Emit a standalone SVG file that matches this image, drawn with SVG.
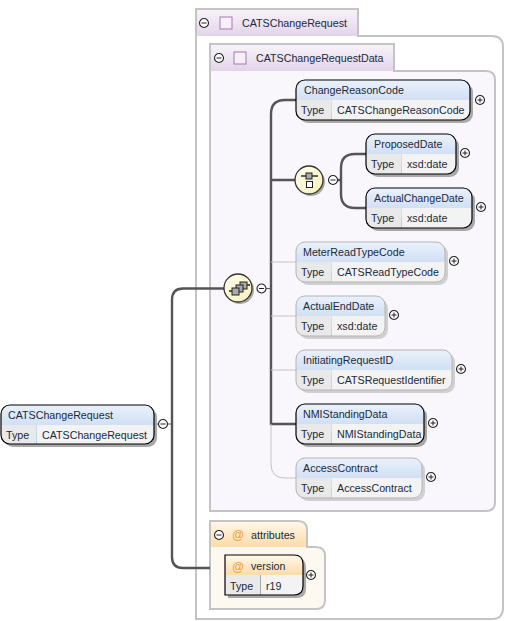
<svg xmlns="http://www.w3.org/2000/svg" width="505" height="621" viewBox="0 0 505 621">
<style>
text{font-family:"Liberation Sans",Arial,sans-serif;font-size:10.7px;fill:#1a2a3a}
.fr{stroke:#c4c4c4;stroke-width:2;fill:none}
.shadow{fill:#a8a8a8}
.lshadow{fill:#d0d0d0}
.sel{fill:none;stroke:#000;stroke-width:1.2}
.opt{fill:none;stroke:#b4b4b4;stroke-width:1}
.cell{fill:#e9e9e9}
.cell2{fill:#f3f3f3}
.bold{fill:none;stroke:#555;stroke-width:2.4}
.thin{fill:none;stroke:#c4c4c4;stroke-width:1}
.pm{fill:#fff;stroke:#222;stroke-width:1.1}
.pl{stroke:#222;stroke-width:1;fill:none}
.at{fill:#f0a030;font-size:12px}
.ci{fill:url(#ball);stroke:#333;stroke-width:1.3}
.cis{fill:#aaa}
.sq{fill:#f6f0f8;stroke:#a878b0;stroke-width:1}
</style>
<defs>
<linearGradient id="blue" x1="0" y1="0" x2="0" y2="1"><stop offset="0" stop-color="#eaf1fb"/><stop offset="1" stop-color="#b9cff0"/></linearGradient>
<linearGradient id="purple" x1="0" y1="0" x2="0" y2="1"><stop offset="0" stop-color="#f8f4fa"/><stop offset="1" stop-color="#e4d4ea"/></linearGradient>
<linearGradient id="orange" x1="0" y1="0" x2="0" y2="1"><stop offset="0" stop-color="#fff8ea"/><stop offset="1" stop-color="#fcdca8"/></linearGradient>
<linearGradient id="ball" x1="0" y1="0" x2="1" y2="1"><stop offset="0" stop-color="#fffef0"/><stop offset="1" stop-color="#f8f0b8"/></linearGradient>
<symbol id="minus" overflow="visible"><circle r="4.5" class="pm"/><path d="M-2.5 0H2.5" class="pl"/></symbol>
<symbol id="plus" overflow="visible"><circle r="4.5" class="pm"/><path d="M-2.5 0H2.5M0 -2.5V2.5" class="pl"/></symbol>
</defs>
<rect width="505" height="621" fill="#fff"/>

<g id="frame-CATSChangeRequest">
<path d="M196 36H492Q503 36 503 47V608Q503 619 492 619H196Z" fill="#fff"/>
<path d="M196 9H358V36H196Z" fill="url(#purple)"/>
<path class="fr" d="M196 36V9H358V36H492Q503 36 503 47V608Q503 619 492 619H196V36"/>
<use href="#minus" x="204" y="23"/>
<rect x="220" y="17" width="12" height="12" class="sq"/>
<text x="242" y="27">CATSChangeRequest</text>
</g>
<g id="frame-CATSChangeRequestData">
<path d="M210 71H486Q495 71 495 80V502Q495 511 486 511H210Z" fill="#f9f6fc"/>
<path d="M210 44H394V71H210Z" fill="url(#purple)"/>
<path class="fr" d="M210 71V44H394V71H486Q495 71 495 80V502Q495 511 486 511H210V71"/>
<use href="#minus" x="219" y="58"/>
<rect x="234" y="52" width="12" height="12" class="sq"/>
<text x="256" y="62">CATSChangeRequestData</text>
</g>
<g id="frame-attributes">
<path d="M210 547H316Q325 547 325 556V600Q325 609 316 609H210Z" fill="#fef9f0"/>
<path d="M210 547V521H298Q307 521 307 530V547Z" fill="url(#orange)"/>
<path class="fr" d="M210 547V521H298Q307 521 307 530V547H316Q325 547 325 556V600Q325 609 316 609H210V547"/>
<use href="#minus" x="219" y="535"/>
<text x="232" y="539" class="at">@</text>
<text x="251" y="539">attributes</text>
</g>

<g id="connectors">
<path class="bold" d="M172 424V300Q172 288.500 183 288.500H224M172 424V557Q172 568 183 568H210"/>
<path class="bold" d="M296 100H285Q271 100 271 114V424H296M271 180H296"/>
<path class="bold" d="M338 180H341M366 154H355Q341 154 341 168V194Q341 208 355 208H366"/>
<path class="thin" d="M271 262H296M271 316H296M271 370H296M271 424V464Q271 478 285 478H296"/>
<path d="M157 424H172M266 288.500H271" stroke="#555" stroke-width="1" fill="none"/>
</g>

<g id="node-CATSChangeRequest">
<rect x="4" y="408" width="153" height="39" rx="9" class="shadow"/>
<rect x="1" y="405" width="153" height="39" rx="9" fill="url(#blue)"/>
<path d="M1 425H36V444H10Q1 444 1 435Z" class="cell"/><path d="M37 425H154V435Q154 444 145 444H37Z" class="cell2"/>
<rect x="1" y="405" width="153" height="39" rx="9" class="sel"/>
<text x="8" y="419">CATSChangeRequest</text><text x="6" y="439">Type</text><text x="42" y="439">CATSChangeRequest</text>
<use href="#minus" x="163" y="424"/>
</g>

<g id="sequence-1">
<circle cx="240" cy="290" r="14" class="cis"/>
<circle cx="238" cy="288" r="14" class="ci"/>
<path d="M229 291h3M247 285h3" fill="none" stroke="#222" stroke-width="1.4"/>
<rect x="240" y="282" width="7" height="7" fill="#aaa" stroke="#222"/>
<rect x="236" y="285" width="7" height="7" fill="#aaa" stroke="#222"/>
<rect x="232" y="288" width="7" height="7" fill="#aaa" stroke="#222"/>
<use href="#minus" x="261.500" y="288.500"/>
</g>
<g id="sequence-2">
<circle cx="311" cy="182" r="14" class="cis"/>
<circle cx="309" cy="180" r="14" class="ci"/>
<path d="M301 176h17" fill="none" stroke="#222" stroke-width="1.4"/>
<rect x="306" y="173" width="6" height="6" fill="#aaa" stroke="#222"/>
<rect x="306.500" y="181.500" width="6" height="6" fill="#fff" stroke="#222"/>
<use href="#minus" x="333" y="180"/>
</g>

<g id="node-ChangeReasonCode">
<rect x="299" y="83" width="174" height="40" rx="9" class="shadow"/>
<rect x="296" y="80" width="174" height="40" rx="9" fill="url(#blue)"/>
<path d="M296 100H331V120H305Q296 120 296 111Z" class="cell"/><path d="M332 100H470V111Q470 120 461 120H332Z" class="cell2"/>
<rect x="296" y="80" width="174" height="40" rx="9" class="sel"/>
<text x="304" y="94">ChangeReasonCode</text><text x="301" y="114">Type</text><text x="337" y="114">CATSChangeReasonCode</text>
<use href="#plus" x="480" y="100"/>
</g>
<g id="node-ProposedDate">
<rect x="369" y="137" width="90" height="40" rx="9" class="shadow"/>
<rect x="366" y="134" width="90" height="40" rx="9" fill="url(#blue)"/>
<path d="M366 154H401V174H375Q366 174 366 165Z" class="cell"/><path d="M402 154H456V165Q456 174 447 174H402Z" class="cell2"/>
<rect x="366" y="134" width="90" height="40" rx="9" class="sel"/>
<text x="374" y="148">ProposedDate</text><text x="371" y="168">Type</text><text x="407" y="168">xsd:date</text>
<use href="#plus" x="465" y="153"/>
</g>
<g id="node-ActualChangeDate">
<rect x="369" y="191" width="106" height="40" rx="9" class="shadow"/>
<rect x="366" y="188" width="106" height="40" rx="9" fill="url(#blue)"/>
<path d="M366 208H401V228H375Q366 228 366 219Z" class="cell"/><path d="M402 208H472V219Q472 228 463 228H402Z" class="cell2"/>
<rect x="366" y="188" width="106" height="40" rx="9" class="sel"/>
<text x="374" y="202">ActualChangeDate</text><text x="371" y="222">Type</text><text x="407" y="222">xsd:date</text>
<use href="#plus" x="481" y="207"/>
</g>
<g id="node-MeterReadTypeCode">
<rect x="299" y="245" width="149" height="40" rx="9" class="lshadow"/>
<rect x="296" y="242" width="149" height="40" rx="9" fill="url(#blue)"/>
<path d="M296 262H331V282H305Q296 282 296 273Z" class="cell"/><path d="M332 262H445V273Q445 282 436 282H332Z" class="cell2"/>
<rect x="296" y="242" width="149" height="40" rx="9" class="opt"/>
<text x="303" y="256">MeterReadTypeCode</text><text x="301" y="276">Type</text><text x="337" y="276">CATSReadTypeCode</text>
<use href="#plus" x="454" y="261"/>
</g>
<g id="node-ActualEndDate">
<rect x="299" y="299" width="89" height="40" rx="9" class="lshadow"/>
<rect x="296" y="296" width="89" height="40" rx="9" fill="url(#blue)"/>
<path d="M296 316H331V336H305Q296 336 296 327Z" class="cell"/><path d="M332 316H385V327Q385 336 376 336H332Z" class="cell2"/>
<rect x="296" y="296" width="89" height="40" rx="9" class="opt"/>
<text x="303" y="310">ActualEndDate</text><text x="301" y="330">Type</text><text x="337" y="330">xsd:date</text>
<use href="#plus" x="394" y="315"/>
</g>
<g id="node-InitiatingRequestID">
<rect x="299" y="353" width="156" height="40" rx="9" class="lshadow"/>
<rect x="296" y="350" width="156" height="40" rx="9" fill="url(#blue)"/>
<path d="M296 370H331V390H305Q296 390 296 381Z" class="cell"/><path d="M332 370H452V381Q452 390 443 390H332Z" class="cell2"/>
<rect x="296" y="350" width="156" height="40" rx="9" class="opt"/>
<text x="303" y="364">InitiatingRequestID</text><text x="301" y="384">Type</text><text x="337" y="384">CATSRequestIdentifier</text>
<use href="#plus" x="461" y="369"/>
</g>
<g id="node-NMIStandingData">
<rect x="299" y="407" width="128" height="40" rx="9" class="shadow"/>
<rect x="296" y="404" width="128" height="40" rx="9" fill="url(#blue)"/>
<path d="M296 424H331V444H305Q296 444 296 435Z" class="cell"/><path d="M332 424H424V435Q424 444 415 444H332Z" class="cell2"/>
<rect x="296" y="404" width="128" height="40" rx="9" class="sel"/>
<text x="303" y="418">NMIStandingData</text><text x="301" y="438">Type</text><text x="337" y="438">NMIStandingData</text>
<use href="#plus" x="433" y="423"/>
</g>
<g id="node-AccessContract">
<rect x="299" y="461" width="126" height="40" rx="9" class="lshadow"/>
<rect x="296" y="458" width="126" height="40" rx="9" fill="url(#blue)"/>
<path d="M296 478H331V498H305Q296 498 296 489Z" class="cell"/><path d="M332 478H422V489Q422 498 413 498H332Z" class="cell2"/>
<rect x="296" y="458" width="126" height="40" rx="9" class="opt"/>
<text x="303" y="472">AccessContract</text><text x="301" y="492">Type</text><text x="337" y="492">AccessContract</text>
<use href="#plus" x="431" y="477"/>
</g>
<g id="node-version">
<path d="M228 558H296Q306 558 306 567V589Q306 598 296 598H228Z" class="shadow"/>
<path d="M225 555H294Q303 555 303 564V575H225Z" fill="url(#orange)"/>
<rect x="225" y="575" width="35" height="20" class="cell"/><path d="M261 575H303V586Q303 595 294 595H261Z" class="cell2"/>
<path d="M225 555H294Q303 555 303 564V586Q303 595 294 595H225Z" class="sel"/>
<text x="232" y="571" class="at">@</text>
<text x="251" y="570">version</text><text x="230" y="590">Type</text><text x="266" y="590">r19</text>
<use href="#plus" x="311" y="575"/>
</g>
</svg>
